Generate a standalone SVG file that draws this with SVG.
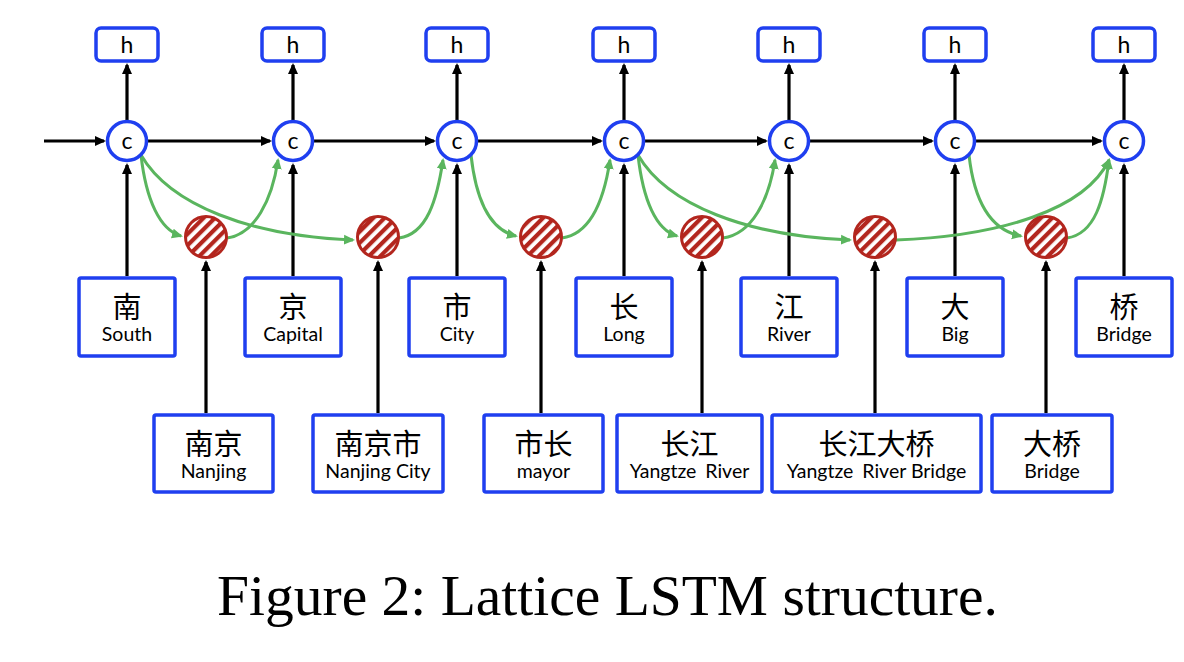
<svg xmlns="http://www.w3.org/2000/svg" width="1184" height="662" viewBox="0 0 1184 662">
<style>
.hbox{fill:#fff;stroke:#1f3ff0;stroke-width:3.5}
.cnode{fill:#fff;stroke:#1f3ff0;stroke-width:3.5}
.wbox{fill:#fff;stroke:#1f3ff0;stroke-width:3.5}
.rnode{fill:url(#hatch);stroke:#b3261e;stroke-width:3}
.lbl{font-family:Lato,"Open Sans","Liberation Sans",sans-serif;font-size:23px;fill:#000;text-anchor:middle}
.zh{font-family:"Noto Sans CJK SC",sans-serif;font-size:29px;fill:#000;text-anchor:middle}
.en{font-family:Lato,"Open Sans","Liberation Sans",sans-serif;font-size:19.5px;fill:#000;text-anchor:middle}
.blk{fill:none;stroke:#000;stroke-width:3.2;marker-end:url(#ab)}
.grn{fill:none;stroke:#5ab55e;stroke-width:3;marker-end:url(#ag)}
.title{font-family:"Liberation Serif","Times New Roman",serif;font-size:57.5px;fill:#000;text-anchor:middle}
</style>
<defs>
<marker id="ab" markerUnits="userSpaceOnUse" markerWidth="12" markerHeight="12" viewBox="0 0 12 12" refX="9" refY="6" orient="auto"><path d="M0,1 L11,6 L0,11 z" fill="#000"/></marker>
<marker id="ag" markerUnits="userSpaceOnUse" markerWidth="12" markerHeight="12" viewBox="0 0 12 12" refX="9" refY="6" orient="auto"><path d="M0,1 L11,6 L0,11 z" fill="#5ab55e"/></marker>
<pattern id="hatch" patternUnits="userSpaceOnUse" width="8" height="8" patternTransform="rotate(45)"><rect width="8" height="8" fill="#fff"/><rect width="4.2" height="8" fill="#b3261e"/></pattern>
</defs>

<g id="connectors">
<path class="blk" d="M44,141 H104"/>
<path class="blk" d="M148,141 H270"/>
<path class="blk" d="M314,141 H434"/>
<path class="blk" d="M478,141 H601"/>
<path class="blk" d="M645,141 H766"/>
<path class="blk" d="M810,141 H932"/>
<path class="blk" d="M976,141 H1101"/>
<path class="blk" d="M127,120 V65"/>
<path class="blk" d="M293,120 V65"/>
<path class="blk" d="M457,120 V65"/>
<path class="blk" d="M624,120 V65"/>
<path class="blk" d="M789,120 V65"/>
<path class="blk" d="M955,120 V65"/>
<path class="blk" d="M1124,120 V65"/>
<path class="blk" d="M127,276 V165"/>
<path class="blk" d="M293,276 V165"/>
<path class="blk" d="M457,276 V165"/>
<path class="blk" d="M624,276 V165"/>
<path class="blk" d="M789,276 V165"/>
<path class="blk" d="M955,276 V165"/>
<path class="blk" d="M1124,276 V165"/>
<path class="blk" d="M206,413 V262"/>
<path class="blk" d="M378,413 V262"/>
<path class="blk" d="M541,413 V262"/>
<path class="blk" d="M702,413 V262"/>
<path class="blk" d="M875,413 V262"/>
<path class="blk" d="M1046,413 V262"/>
<path class="grn" d="M141,155 C146,200 160,230 181,236"/>
<path class="grn" d="M227,238 C255,234 272,200 278,160"/>
<path class="grn" d="M141,155 C170,205 250,236 353,240"/>
<path class="grn" d="M399,238 C427,234 437,200 443,160"/>
<path class="grn" d="M471,155 C476,200 490,230 516,236"/>
<path class="grn" d="M562,238 C590,234 604,200 610,160"/>
<path class="grn" d="M638,155 C643,200 656,230 677,236"/>
<path class="grn" d="M723,238 C752,234 769,200 775,160"/>
<path class="grn" d="M638,155 C667,205 747,236 850,240"/>
<path class="grn" d="M896,240 C1000,236 1085,210 1109,160"/>
<path class="grn" d="M969,155 C974,200 990,230 1021,236"/>
<path class="grn" d="M1067,238 C1095,234 1104,200 1109,160"/>
</g>

<g id="h1"><rect class="hbox" x="96" y="28" width="62" height="33" rx="5"/><text class="lbl" x="127" y="53">h</text></g>
<g id="h2"><rect class="hbox" x="262" y="28" width="62" height="33" rx="5"/><text class="lbl" x="293" y="53">h</text></g>
<g id="h3"><rect class="hbox" x="426" y="28" width="62" height="33" rx="5"/><text class="lbl" x="457" y="53">h</text></g>
<g id="h4"><rect class="hbox" x="593" y="28" width="62" height="33" rx="5"/><text class="lbl" x="624" y="53">h</text></g>
<g id="h5"><rect class="hbox" x="758" y="28" width="62" height="33" rx="5"/><text class="lbl" x="789" y="53">h</text></g>
<g id="h6"><rect class="hbox" x="924" y="28" width="62" height="33" rx="5"/><text class="lbl" x="955" y="53">h</text></g>
<g id="h7"><rect class="hbox" x="1093" y="28" width="62" height="33" rx="5"/><text class="lbl" x="1124" y="53">h</text></g>

<g id="c1"><circle class="cnode" cx="127" cy="141" r="19.5"/><text class="lbl" x="127" y="148.5">c</text></g>
<g id="c2"><circle class="cnode" cx="293" cy="141" r="19.5"/><text class="lbl" x="293" y="148.5">c</text></g>
<g id="c3"><circle class="cnode" cx="457" cy="141" r="19.5"/><text class="lbl" x="457" y="148.5">c</text></g>
<g id="c4"><circle class="cnode" cx="624" cy="141" r="19.5"/><text class="lbl" x="624" y="148.5">c</text></g>
<g id="c5"><circle class="cnode" cx="789" cy="141" r="19.5"/><text class="lbl" x="789" y="148.5">c</text></g>
<g id="c6"><circle class="cnode" cx="955" cy="141" r="19.5"/><text class="lbl" x="955" y="148.5">c</text></g>
<g id="c7"><circle class="cnode" cx="1124" cy="141" r="19.5"/><text class="lbl" x="1124" y="148.5">c</text></g>

<g id="r1"><circle class="rnode" cx="206" cy="237" r="20.5"/></g>
<g id="r2"><circle class="rnode" cx="378" cy="237" r="20.5"/></g>
<g id="r3"><circle class="rnode" cx="541" cy="237" r="20.5"/></g>
<g id="r4"><circle class="rnode" cx="702" cy="237" r="20.5"/></g>
<g id="r5"><circle class="rnode" cx="875" cy="237" r="20.5"/></g>
<g id="r6"><circle class="rnode" cx="1046" cy="237" r="20.5"/></g>

<g id="w-nan"><rect class="wbox" x="79" y="278" width="96" height="78" rx="2"/><text class="zh" x="127" y="318">南</text><text class="en" x="127" y="341">South</text></g>
<g id="w-jing"><rect class="wbox" x="245" y="278" width="96" height="78" rx="2"/><text class="zh" x="293" y="318">京</text><text class="en" x="293" y="341">Capital</text></g>
<g id="w-shi"><rect class="wbox" x="409" y="278" width="96" height="78" rx="2"/><text class="zh" x="457" y="318">市</text><text class="en" x="457" y="341">City</text></g>
<g id="w-chang"><rect class="wbox" x="576" y="278" width="96" height="78" rx="2"/><text class="zh" x="624" y="318">长</text><text class="en" x="624" y="341">Long</text></g>
<g id="w-jiang"><rect class="wbox" x="741" y="278" width="96" height="78" rx="2"/><text class="zh" x="789" y="318">江</text><text class="en" x="789" y="341">River</text></g>
<g id="w-da"><rect class="wbox" x="907" y="278" width="96" height="78" rx="2"/><text class="zh" x="955" y="318">大</text><text class="en" x="955" y="341">Big</text></g>
<g id="w-qiao"><rect class="wbox" x="1076" y="278" width="96" height="78" rx="2"/><text class="zh" x="1124" y="318">桥</text><text class="en" x="1124" y="341">Bridge</text></g>

<g id="w-nanjing"><rect class="wbox" x="154" y="415" width="119" height="77" rx="2"/><text class="zh" x="213.5" y="455">南京</text><text class="en" x="213.5" y="478">Nanjing</text></g>
<g id="w-nanjingshi"><rect class="wbox" x="313" y="415" width="130" height="77" rx="2"/><text class="zh" x="378" y="455">南京市</text><text class="en" x="378" y="478">Nanjing City</text></g>
<g id="w-shichang"><rect class="wbox" x="484" y="415" width="119" height="77" rx="2"/><text class="zh" x="543.5" y="455">市长</text><text class="en" x="543.5" y="478">mayor</text></g>
<g id="w-changjiang"><rect class="wbox" x="617" y="415" width="145" height="77" rx="2"/><text class="zh" x="689.5" y="455">长江</text><text class="en" x="689.5" y="478">Yangtze <tspan dx="4">River</tspan></text></g>
<g id="w-changjiangdaqiao"><rect class="wbox" x="772" y="415" width="209" height="77" rx="2"/><text class="zh" x="876.5" y="455">长江大桥</text><text class="en" x="876.5" y="478">Yangtze <tspan dx="4">River</tspan> Bridge</text></g>
<g id="w-daqiao"><rect class="wbox" x="992" y="415" width="120" height="77" rx="2"/><text class="zh" x="1052" y="455">大桥</text><text class="en" x="1052" y="478">Bridge</text></g>

<text class="title" x="607.5" y="615">Figure 2: Lattice LSTM structure.</text>
</svg>
